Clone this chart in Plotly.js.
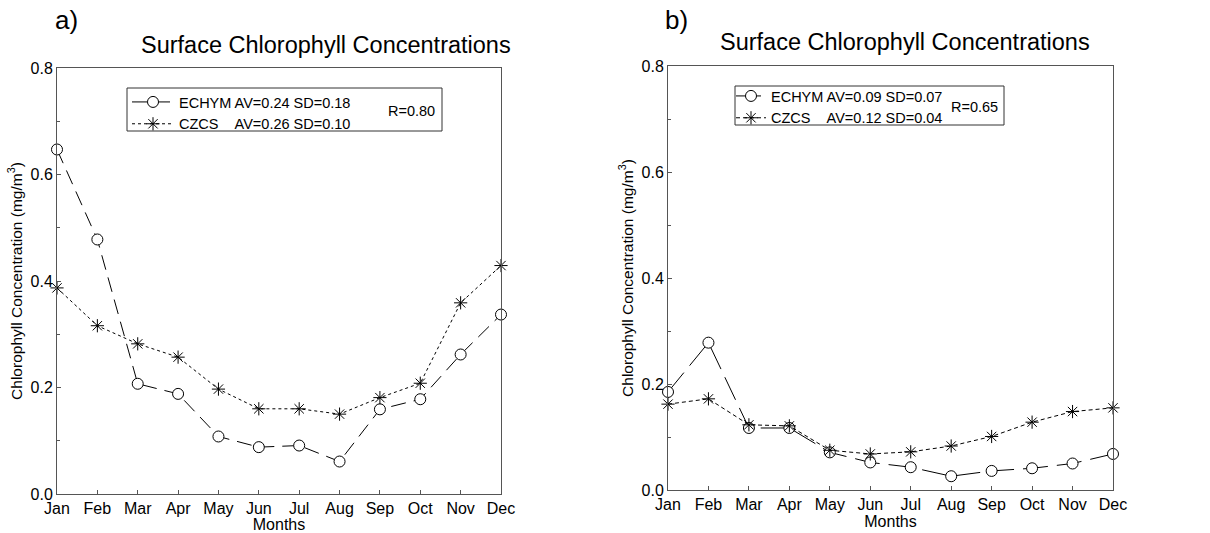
<!DOCTYPE html>
<html>
<head>
<meta charset="utf-8">
<script src="https://cdn.plot.ly/plotly-3.0.1.min.js"></script>
<style>html,body{margin:0;padding:0;background:#fff;}#chart{width:1210px;height:533px;}</style>
</head>
<body>
<div id="chart"></div>
<script>
const months = ["Jan","Feb","Mar","Apr","May","Jun","Jul","Aug","Sep","Oct","Nov","Dec"];
const echymA = [0.647,0.478,0.207,0.188,0.108,0.088,0.091,0.061,0.159,0.178,0.262,0.337];
const czcsA  = [0.387,0.316,0.282,0.257,0.197,0.160,0.160,0.150,0.181,0.208,0.359,0.429];
const echymB = [0.185,0.278,0.117,0.117,0.071,0.052,0.043,0.026,0.036,0.041,0.050,0.068];
const czcsB  = [0.162,0.172,0.123,0.121,0.075,0.068,0.072,0.083,0.101,0.128,0.148,0.155];
const legA = ["ECHYM AV=0.24 SD=0.18", "CZCS\u00a0\u00a0\u00a0\u00a0AV=0.26 SD=0.10"];
const legB = ["ECHYM AV=0.09 SD=0.07", "CZCS\u00a0\u00a0\u00a0\u00a0AV=0.12 SD=0.04"];
const rA = "R=0.80", rB = "R=0.65";
const panelLabels = ["a)", "b)"];
const titleText = "Surface Chlorophyll Concentrations";
const yTitle = "Chlorophyll Concentration (mg/m<sup>3</sup>)";
const xTitle = "Months";

const FONT = "Liberation Sans, Arial, Helvetica, sans-serif";
const W = 1210, H = 533;
const px = v => v / W, py = v => 1 - v / H;

const circ = {symbol: "circle", size: 11, color: "#fff", line: {color: "#000", width: 1}};
const star = {symbol: "asterisk-open", size: 11, color: "#000", line: {color: "#000", width: 1}};

const traces = [
  {x: months, y: echymA, name: legA[0], xaxis: "x", yaxis: "y", legend: "legend", mode: "lines+markers", cliponaxis: false,
   line: {color: "#000", width: 1, dash: "15px,8px"}, marker: circ},
  {x: months, y: czcsA, name: legA[1], xaxis: "x", yaxis: "y", legend: "legend", mode: "lines+markers", cliponaxis: false,
   line: {color: "#000", width: 1, dash: "3px,3px"}, marker: star},
  {x: months, y: echymB, name: legB[0], xaxis: "x2", yaxis: "y2", legend: "legend2", mode: "lines+markers", cliponaxis: false,
   line: {color: "#000", width: 1, dash: "25px,9px"}, marker: circ},
  {x: months, y: czcsB, name: legB[1], xaxis: "x2", yaxis: "y2", legend: "legend2", mode: "lines+markers", cliponaxis: false,
   line: {color: "#000", width: 1, dash: "4px,3px"}, marker: star}
];

function xax(dom, anchor) {
  return {domain: dom, anchor: anchor, type: "category", range: [0, 11], showgrid: false, zeroline: false,
    showline: true, mirror: true, linecolor: "#555", linewidth: 1, ticks: "inside", ticklen: 4, tickcolor: "#555",
    tickfont: {family: FONT, size: 16, color: "#000"},
    title: {text: xTitle, font: {family: FONT, size: 16, color: "#000"}, standoff: 2}};
}
function yax(dom, anchor) {
  return {domain: dom, anchor: anchor, range: [0, 0.8], dtick: 0.2, tickformat: ".1f", showgrid: false, zeroline: false,
    showline: true, mirror: true, linecolor: "#555", linewidth: 1, ticks: "inside", ticklen: 4, tickcolor: "#555",
    minor: {dtick: 0.1, ticks: "inside", ticklen: 3, tickcolor: "#555"},
    tickfont: {family: FONT, size: 16, color: "#000"},
    title: {text: yTitle, font: {family: FONT, size: 15.5, color: "#000"}, standoff: 4}};
}

const legendBase = {bgcolor: "rgba(0,0,0,0)", borderwidth: 0, font: {family: FONT, size: 14.5, color: "#000"},
  xanchor: "left", yanchor: "top", tracegroupgap: 0};

const layout = {
  width: W, height: H, margin: {l: 0, r: 0, t: 0, b: 0}, paper_bgcolor: "#fff", plot_bgcolor: "#fff",
  showlegend: true,
  xaxis: xax([px(57), px(501)], "y"),
  yaxis: yax([py(494), py(68)], "x"),
  xaxis2: xax([px(668), px(1113)], "y2"),
  yaxis2: yax([py(490), py(66)], "x2"),
  legend: Object.assign({}, legendBase, {x: px(127), y: py(86), itemwidth: 42}),
  legend2: Object.assign({}, legendBase, {x: px(731), y: py(80), itemwidth: 30}),
  shapes: [
    {type: "rect", xref: "paper", yref: "paper", x0: px(127), x1: px(442), y0: py(131), y1: py(88), line: {color: "#333", width: 1}},
    {type: "rect", xref: "paper", yref: "paper", x0: px(735), x1: px(1004), y0: py(125), y1: py(86), line: {color: "#333", width: 1}}
  ],
  annotations: [
    {text: panelLabels[0], xref: "paper", yref: "paper", x: px(53), y: py(20), xanchor: "left", yanchor: "middle", showarrow: false, font: {family: FONT, size: 26, color: "#000"}},
    {text: panelLabels[1], xref: "paper", yref: "paper", x: px(663), y: py(20), xanchor: "left", yanchor: "middle", showarrow: false, font: {family: FONT, size: 26, color: "#000"}},
    {text: titleText, xref: "paper", yref: "paper", x: px(326), y: py(45), xanchor: "center", yanchor: "middle", showarrow: false, font: {family: FONT, size: 23.5, color: "#000"}},
    {text: titleText, xref: "paper", yref: "paper", x: px(905), y: py(42), xanchor: "center", yanchor: "middle", showarrow: false, font: {family: FONT, size: 23.5, color: "#000"}},
    {text: rA, xref: "paper", yref: "paper", x: px(386), y: py(111), xanchor: "left", yanchor: "middle", showarrow: false, font: {family: FONT, size: 14.5, color: "#000"}},
    {text: rB, xref: "paper", yref: "paper", x: px(1000), y: py(107), xanchor: "right", yanchor: "middle", showarrow: false, font: {family: FONT, size: 14.5, color: "#000"}}
  ]
};

Plotly.newPlot("chart", traces, layout, {staticPlot: true, displayModeBar: false});
</script>
</body>
</html>
